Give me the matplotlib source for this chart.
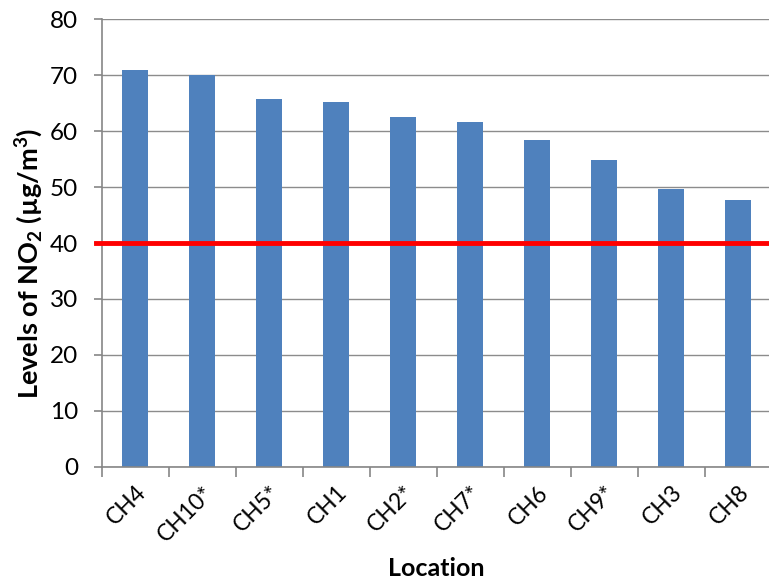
import matplotlib
matplotlib.use("Agg")
import matplotlib.pyplot as plt
import numpy as np

# NO2 levels per location, sorted high to low
locations = ["CH4", "CH10*", "CH5*", "CH1", "CH2*", "CH7*", "CH6", "CH9*", "CH3", "CH8"]
no2_levels = [70.9, 70.0, 65.7, 65.2, 62.5, 61.6, 58.4, 54.8, 49.6, 47.7]
limit_value = 40  # annual mean limit
y_ticks = [0, 10, 20, 30, 40, 50, 60, 70, 80]

plt.rcParams["font.family"] = ["Lato", "DejaVu Sans"]
plt.rcParams["mathtext.fontset"] = "custom"
plt.rcParams["mathtext.rm"] = "Lato:bold"
plt.rcParams["mathtext.bf"] = "Lato:bold"
plt.rcParams["mathtext.it"] = "Lato:bold"

fig = plt.figure(figsize=(7.69, 5.84), dpi=100)
ax = fig.add_axes([0.1323, 0.2009, 0.871, 0.766])

x = np.arange(len(locations))
ax.bar(x, no2_levels, width=0.39, color="#4F81BD", zorder=2)

# limit line drawn across the whole plot
ax.axhline(limit_value, xmin=-0.0085, xmax=1, color="#FF0000", linewidth=3.5,
           clip_on=False, zorder=3)

ax.set_xlim(-0.5, len(locations) - 0.5)
ax.set_ylim(0, 80)
ax.set_yticks(y_ticks)
ax.yaxis.grid(True, color="#8C8C8C", linewidth=1.0, zorder=0)
ax.set_axisbelow(True)

ax.set_xticks(x)
ax.set_xticklabels(locations, rotation=45, ha="right", va="top",
                   rotation_mode="anchor", fontsize=16.5)
ax.set_xticks(np.arange(len(locations) + 1) - 0.5, minor=True)
ax.tick_params(axis="x", which="major", length=0, pad=11)
ax.tick_params(axis="x", which="minor", length=7, color="#868686", width=1.2)
ax.tick_params(axis="y", length=6, color="#868686", width=1.2, pad=11, labelsize=17.5)

for side in ["top", "right"]:
    ax.spines[side].set_visible(False)
for side in ["left", "bottom"]:
    ax.spines[side].set_color("#868686")
    ax.spines[side].set_linewidth(1.2)

fig.text(29 / 769, 1 - 263 / 584, r"Levels of NO$_2$ (µg/m$^3$)", rotation=90,
         fontsize=19.5, fontweight="bold", ha="center", va="center")
fig.text(436 / 769, 1 - 569 / 584, "Location", fontsize=18, fontweight="bold",
         ha="center", va="center")

fig.savefig("out.png", dpi=100)
